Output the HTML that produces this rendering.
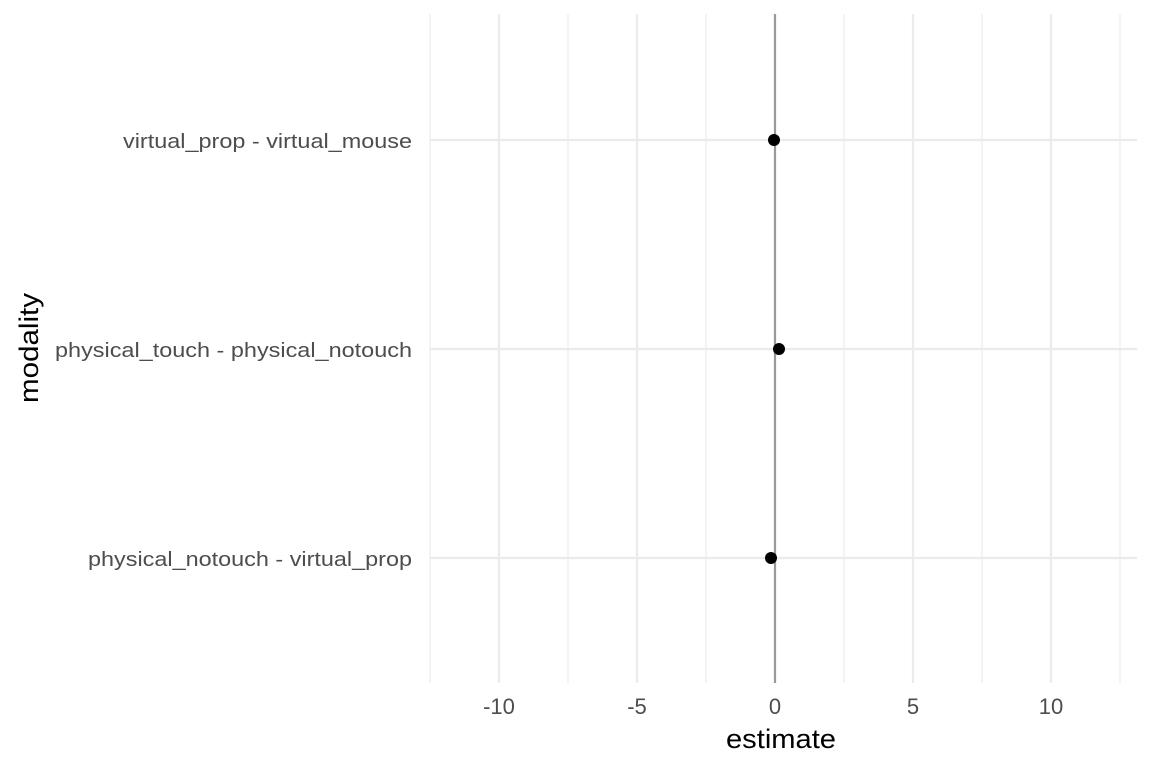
<!DOCTYPE html>
<html><head><style>body{margin:0;background:#fff}</style></head><body>
<svg width="1152" height="768" xmlns="http://www.w3.org/2000/svg" font-family="Liberation Sans, sans-serif">
<rect width="1152" height="768" fill="#fff"/>
<g stroke="#ebebeb" stroke-width="1.1">
<line x1="430" y1="14" x2="430" y2="683"/><line x1="568" y1="14" x2="568" y2="683"/>
<line x1="706" y1="14" x2="706" y2="683"/><line x1="844" y1="14" x2="844" y2="683"/>
<line x1="982" y1="14" x2="982" y2="683"/><line x1="1120" y1="14" x2="1120" y2="683"/>
</g>
<g stroke="#ebebeb" stroke-width="2.2">
<line x1="499" y1="14" x2="499" y2="683"/><line x1="637" y1="14" x2="637" y2="683"/>
<line x1="775" y1="14" x2="775" y2="683"/><line x1="913" y1="14" x2="913" y2="683"/>
<line x1="1051" y1="14" x2="1051" y2="683"/>
<line x1="430" y1="140" x2="1137" y2="140"/><line x1="430" y1="349" x2="1137" y2="349"/>
<line x1="430" y1="558" x2="1137" y2="558"/>
</g>
<line x1="775" y1="14" x2="775" y2="683" stroke="#999" stroke-width="2.2"/>
<circle cx="774" cy="140" r="6" fill="#000"/>
<circle cx="779" cy="349" r="6" fill="#000"/>
<circle cx="771" cy="558" r="6" fill="#000"/>
<g fill="#4d4d4d" font-size="20" text-anchor="end">
<text x="412" y="148" textLength="289" lengthAdjust="spacingAndGlyphs">virtual_prop - virtual_mouse</text>
<text x="412" y="357" textLength="357" lengthAdjust="spacingAndGlyphs">physical_touch - physical_notouch</text>
<text x="412" y="566" textLength="324" lengthAdjust="spacingAndGlyphs">physical_notouch - virtual_prop</text>
</g>
<g fill="#4d4d4d" font-size="22" text-anchor="middle">
<text x="499" y="714">-10</text><text x="637" y="714">-5</text><text x="775" y="714">0</text>
<text x="913" y="714">5</text><text x="1051" y="714">10</text>
</g>
<text x="781" y="748" font-size="27" text-anchor="middle" fill="#000" textLength="110" lengthAdjust="spacingAndGlyphs">estimate</text>
<text transform="translate(38,348) rotate(-90)" font-size="27" text-anchor="middle" fill="#000" textLength="110" lengthAdjust="spacingAndGlyphs">modality</text>
</svg>
</body></html>
